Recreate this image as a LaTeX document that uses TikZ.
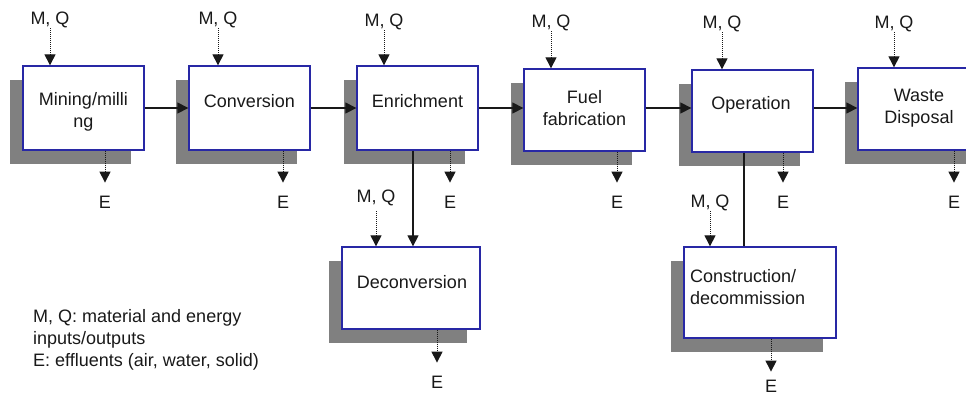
\documentclass[tikz,border=0pt]{standalone}
\usepackage{fontspec}
\setmainfont{Liberation Sans}
\usetikzlibrary{arrows.meta,shadows,calc}
\definecolor{boxblue}{RGB}{40,40,165}
\definecolor{shadegray}{RGB}{128,128,128}
\definecolor{inkc}{RGB}{25,25,25}
\begin{document}
\begin{tikzpicture}[x=1pt,y=-1pt,
  font=\fontsize{18}{22}\selectfont,
  pbox/.style={draw=boxblue,line width=1.3pt,fill=white,inner sep=0pt,
     drop shadow={shadow xshift=-13pt,shadow yshift=-14pt,fill=shadegray,opacity=1}},
  btext/.style={inner sep=0pt,align=center,text=inkc},
  lbl/.style={inner sep=0pt,text=inkc},
  flow/.style={line width=1.2pt,draw=inkc,-{Triangle[width=11pt,length=11pt]}},
  plainline/.style={line width=1.2pt,draw=inkc},
  io/.style={line width=1pt,densely dotted,draw=inkc,-{Triangle[width=11pt,length=11pt]}}]
\useasboundingbox (0,0) rectangle (966,397);

% process boxes
\node[pbox,minimum width=121pt,minimum height=84pt] (mining) at (83.5,108) {};
\node[pbox,minimum width=121pt,minimum height=84pt] (conversion) at (249.5,108) {};
\node[pbox,minimum width=121pt,minimum height=84pt] (enrichment) at (417.5,108) {};
\node[pbox,minimum width=121pt,minimum height=82pt] (fuel) at (584.5,110) {};
\node[pbox,minimum width=121pt,minimum height=82pt] (operation) at (752.5,111) {};
\node[pbox,minimum width=121pt,minimum height=82pt] (waste) at (918.5,109) {};
\node[pbox,minimum width=138pt,minimum height=82pt] (deconv) at (411,288) {};
\node[pbox,minimum width=152pt,minimum height=91pt] (constr) at (760,292.5) {};

% box texts
\node[btext] (miningtxt) at (83.5,112) {Mining/milli\\ng};
\node[btext] (conversiontxt) at (249.5,101) {Conversion};
\node[btext] (enrichmenttxt) at (417.5,101) {Enrichment};
\node[btext] (fueltxt) at (584.5,108) {Fuel\\fabrication};
\node[btext] (operationtxt) at (751,105) {Operation};
\node[btext] (wastetxt) at (919,108.5) {Waste\\Disposal};
\node[btext] (deconvtxt) at (412,282) {Deconversion};
\node[btext,align=left,anchor=west] (constrtxt) at (690,287) {Construction/\\decommission};

% main flow
\draw[flow] (mining.east) -- (conversion.west);
\draw[flow] (conversion.east) -- (enrichment.west);
\draw[flow] (enrichment.east) -- (enrichment.east -| fuel.west);
\draw[flow] (fuel.east |- mining.east) -- (operation.west |- mining.east);
\draw[flow] (operation.east |- mining.east) -- (waste.west |- mining.east);
\draw[flow] ([xshift=-4.5pt]enrichment.south) -- ([xshift=-4.5pt]enrichment.south |- deconv.north);
\draw[plainline] ([xshift=-8.5pt]operation.south) -- ([xshift=-8.5pt]operation.south |- constr.north);

% M, Q inputs
\node[lbl] (mq1) at (50,20) {M, Q};
\node[lbl] (mq2) at (218,20) {M, Q};
\node[lbl] (mq3) at (384,22) {M, Q};
\node[lbl] (mq4) at (551,23) {M, Q};
\node[lbl] (mq5) at (722,24) {M, Q};
\node[lbl] (mq6) at (894,24) {M, Q};
\node[lbl] (mq7) at (376,198) {M, Q};
\node[lbl] (mq8) at (710,203) {M, Q};
\draw[io] (mq1.south) -- (mq1.south |- mining.north);
\draw[io] (mq2.south) -- (mq2.south |- conversion.north);
\draw[io] (mq3.south) -- (mq3.south |- enrichment.north);
\draw[io] (mq4.south) -- (mq4.south |- fuel.north);
\draw[io] (mq5.south) -- (mq5.south |- operation.north);
\draw[io] (mq6.south) -- (mq6.south |- waste.north);
\draw[io] ([yshift=-5pt]mq7.south) -- (mq7.south |- deconv.north);
\draw[io] (mq8.south) -- (mq8.south |- constr.north);

% E effluents
\node[lbl] (e1) at (105,202) {E};
\node[lbl] (e2) at (283,202) {E};
\node[lbl] (e3) at (450,202) {E};
\node[lbl] (e4) at (617,202) {E};
\node[lbl] (e5) at (783,202) {E};
\node[lbl] (e6) at (954,202) {E};
\node[lbl] (e7) at (437,382) {E};
\node[lbl] (e8) at (771,386) {E};
\draw[io] (e1 |- mining.south) -- ([yshift=13pt]e1.north);
\draw[io] (e2 |- conversion.south) -- ([yshift=13pt]e2.north);
\draw[io] (e3 |- enrichment.south) -- ([yshift=13pt]e3.north);
\draw[io] (e4 |- fuel.south) -- ([yshift=13pt]e4.north);
\draw[io] (e5 |- operation.south) -- ([yshift=13pt]e5.north);
\draw[io] (e6 |- waste.south) -- ([yshift=13pt]e6.north);
\draw[io] (e7 |- deconv.south) -- ([yshift=13pt]e7.north);
\draw[io] (e8 |- constr.south) -- ([yshift=8pt]e8.north);

% legend
\node[lbl,align=left,anchor=west] (legend) at (33,339.5)
  {M, Q: material and energy\\inputs/outputs\\E: effluents (air, water, solid)};
\end{tikzpicture}
\end{document}
